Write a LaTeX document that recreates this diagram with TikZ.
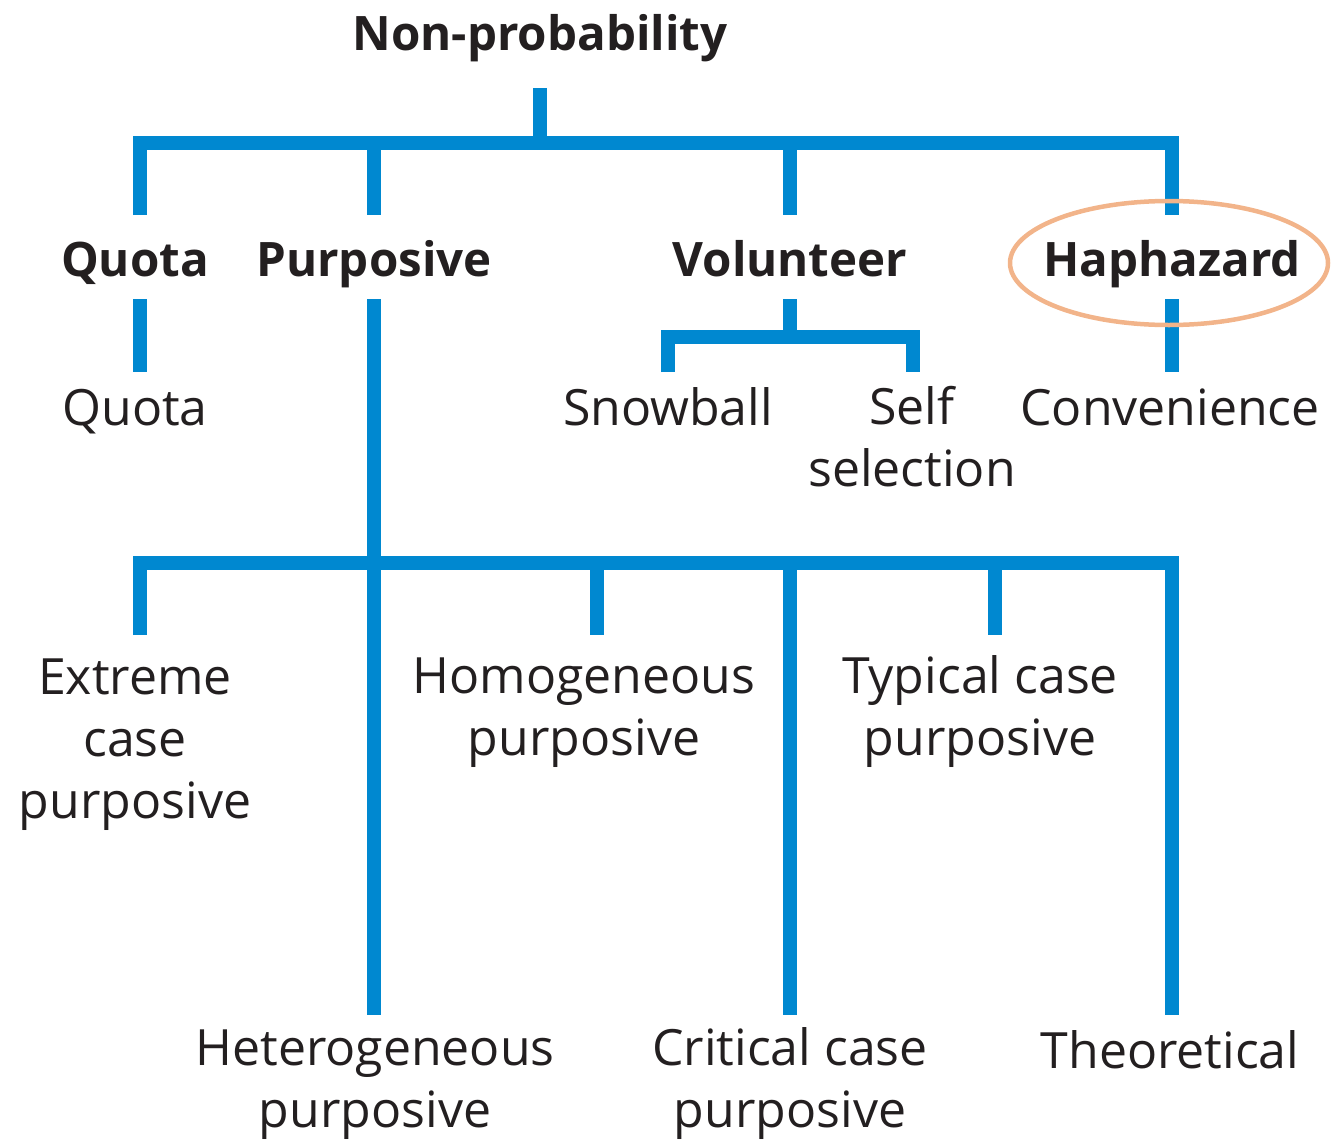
\documentclass[tikz,border=0pt]{standalone}
\usepackage{fontspec}
\setmainfont{Open Sans}
\definecolor{lineblue}{HTML}{0088D0}
\definecolor{txt}{HTML}{231F20}
\definecolor{ringorange}{HTML}{F2B48A}
\begin{document}
\begin{tikzpicture}[x=1pt,y=-1pt,
  conn/.style={draw=lineblue,line width=14pt,line cap=butt,line join=miter},
  lbl/.style={text=txt,font=\fontsize{50}{62}\selectfont,inner sep=0pt,anchor=base,align=center},
  head/.style={lbl,font=\fontsize{47.5}{62}\selectfont\bfseries},
  ring/.style={draw=ringorange,line width=4.5pt}]
\useasboundingbox (0,0) rectangle (1340,1140);
% labels (anchor = baseline of last line)
\node[head] (np) at (540,51) {Non-probability};
\node[head] (quota) at (135,276) {Quota};
\node[head] (purp) at (374,276) {Purposive};
\node[head] (vol) at (790,276) {Volunteer};
\node[head] (hap) at (1172,276) {Haphazard};
\node[lbl] (quota2) at (135,425) {Quota};
\node[lbl] (snow) at (668,425) {Snowball};
\node[lbl] (self) at (912,486) {Self\\selection};
\node[lbl] (conv) at (1170,425) {Convenience};
\node[lbl] (ext) at (135,818) {Extreme\\case\\purposive};
\node[lbl] (homo) at (584,755) {Homogeneous\\purposive};
\node[lbl] (typ) at (980,755) {Typical case\\purposive};
\node[lbl] (het) at (375,1127) {Heterogeneous\\purposive};
\node[lbl] (crit) at (790,1127) {Critical case\\purposive};
\node[lbl] (theo) at (1170,1068) {Theoretical};
% junction coordinates
\coordinate (j0) at (540,143);
\coordinate (j1) at (790,337);
\coordinate (j2) at (374,563);
% top tree
\draw[conn] (540,88) -- (j0);
\draw[conn] (140,215) -- (140,143) -- (1172,143) -- (1172,215);
\draw[conn] (374,143) -- (374,215);
\draw[conn] (790,143) -- (790,215);
\draw[conn] (140,299) -- (140,372);
\draw[conn] (374,299) -- (374,1015);
\draw[conn] (790,299) -- (j1);
\draw[conn] (668,372) -- (668,337) -- (913,337) -- (913,372);
\draw[conn] (1172,299) -- (1172,372);
% lower tree
\draw[conn] (140,635) -- (140,563) -- (1172,563) -- (1172,1015);
\draw[conn] (597,563) -- (597,635);
\draw[conn] (995,563) -- (995,635);
\draw[conn] (790,563) -- (790,1015);
% highlight
\draw[ring] (1169,263) ellipse [x radius=159, y radius=62];
\end{tikzpicture}
\end{document}
